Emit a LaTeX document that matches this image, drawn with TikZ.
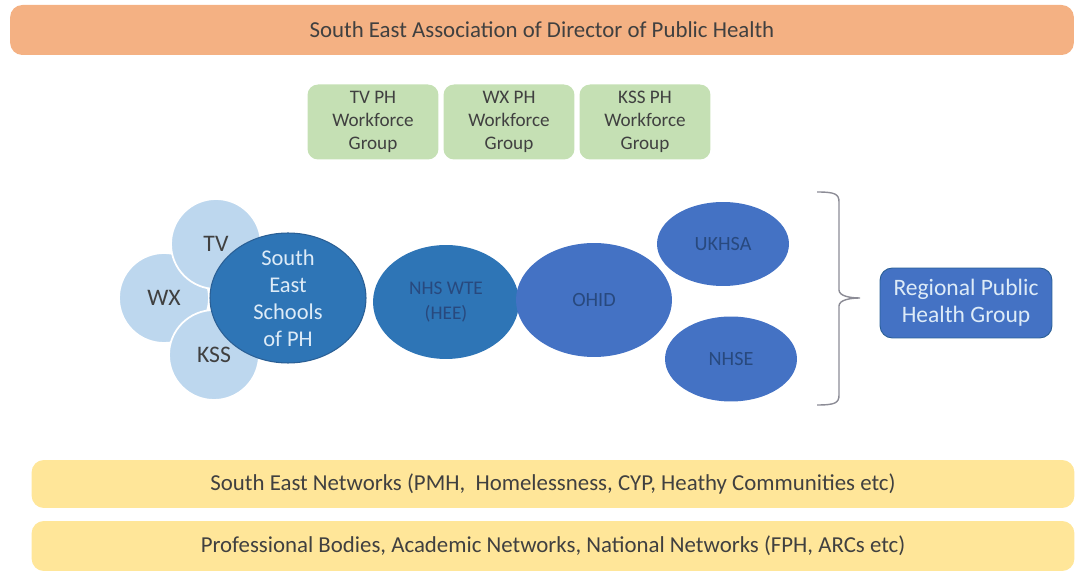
\documentclass[tikz,border=0pt]{standalone}
\usepackage{fontspec}
\setmainfont{Carlito}
\usepackage{xcolor}
\usetikzlibrary{shapes.geometric}

\definecolor{peach}{HTML}{F4B183}
\definecolor{sage}{HTML}{C5E0B4}
\definecolor{butter}{HTML}{FFE699}
\definecolor{paleblue}{HTML}{BDD7EE}
\definecolor{steelblue}{HTML}{2E75B6}
\definecolor{royalblue}{HTML}{4472C4}
\definecolor{navyline}{HTML}{2A5F95}
\definecolor{darktext}{HTML}{404040}
\definecolor{bluetext}{HTML}{28497E}
\definecolor{lighttext}{HTML}{DDEBF7}
\definecolor{bracegrey}{HTML}{8C8C96}

\tikzset{
    bar/.style={rectangle, rounded corners=7pt, text=darktext,
        font=\fontsize{13}{15}\selectfont},
    wfgroup/.style={rectangle, rounded corners=6pt, fill=sage, text=darktext,
        align=center, minimum width=2.62cm, minimum height=1.5cm,
        font=\fontsize{10.9}{13}\selectfont},
    school/.style={circle, fill=paleblue, draw=white, line width=1pt,
        text=darktext, minimum size=1.8cm,
        font=\fontsize{13.5}{15}\selectfont},
    body/.style={ellipse, inner sep=0pt, align=center,
        font=\fontsize{11.5}{15}\selectfont},
    bracket/.style={draw=bracegrey, line width=0.8pt}
}

\begin{document}
\begin{tikzpicture}[x=0.02cm, y=-0.02cm]
        \useasboundingbox (0,0) rectangle (1088,573);

        \node[bar, fill=peach, minimum width=21.28cm, minimum height=1cm] (adph) at (542,30)
            {South East Association of Director of Public Health};

        \node[wfgroup] (tvgroup)  at (373,122) {TV PH\\Workforce\\Group};
        \node[wfgroup] (wxgroup)  at (509,122) {WX PH\\Workforce\\Group};
        \node[wfgroup] (kssgroup) at (645,122) {KSS PH\\Workforce\\Group};

        \node[school] (wx)  at (164,298) {WX};
        \node[school] (tv)  at (216,244) {TV};
        \node[school] (kss) at (214,355) {KSS};

        \node[body, fill=steelblue, draw=navyline, line width=0.6pt,
            minimum width=3.12cm, minimum height=2.6cm,
            label={[align=center, text=lighttext, font=\fontsize{12.8}{15.3}\selectfont]center:South\\East\\Schools\\of PH}]
            (schools) at (288,298) {};
        \node[body, fill=steelblue, text=bluetext, minimum width=2.92cm, minimum height=2.28cm,
            font=\fontsize{11}{14}\selectfont]
            (hee) at (446,302) {NHS WTE\\(HEE)};
        \node[body, fill=royalblue, text=bluetext, minimum width=3.12cm, minimum height=2.28cm]
            (ohid) at (594,300) {OHID};
        \node[body, fill=royalblue, text=bluetext, minimum width=2.64cm, minimum height=1.68cm]
            (ukhsa) at (723,244) {UKHSA};
        \node[body, fill=royalblue, text=bluetext, minimum width=2.64cm, minimum height=1.7cm]
            (nhse) at (731,359) {NHSE};

        \coordinate (bracetop) at (817,192);
        \coordinate (bracetip) at (860,298);
        \coordinate (bracebottom) at (817,405);
        \draw[bracket] (bracetop) .. controls +(18,0) and +(0,-8) .. (839,202)
            -- (839,290) .. controls (839,296) and (850,298) .. (bracetip)
            .. controls (850,298) and (839,300) .. (839,306)
            -- (839,395) .. controls +(0,8) and +(18,0) .. (bracebottom);

        \node[rectangle, rounded corners=7pt, fill=royalblue, draw=navyline, line width=0.5pt,
            text=lighttext, align=center, minimum width=3.44cm, minimum height=1.4cm,
            font=\fontsize{13.4}{15.3}\selectfont]
            (rphg) at (966,303) {Regional Public\\Health Group};

        \node[bar, fill=butter, minimum width=20.86cm, minimum height=0.96cm] (networks) at (553,484)
            {South East Networks (PMH,\ \ Homelessness, CYP, Heathy Communities etc)};
        \node[bar, fill=butter, minimum width=20.86cm, minimum height=1cm] (bodies) at (553,546)
            {Professional Bodies, Academic Networks, National Networks (FPH, ARCs etc)};
\end{tikzpicture}
\end{document}
